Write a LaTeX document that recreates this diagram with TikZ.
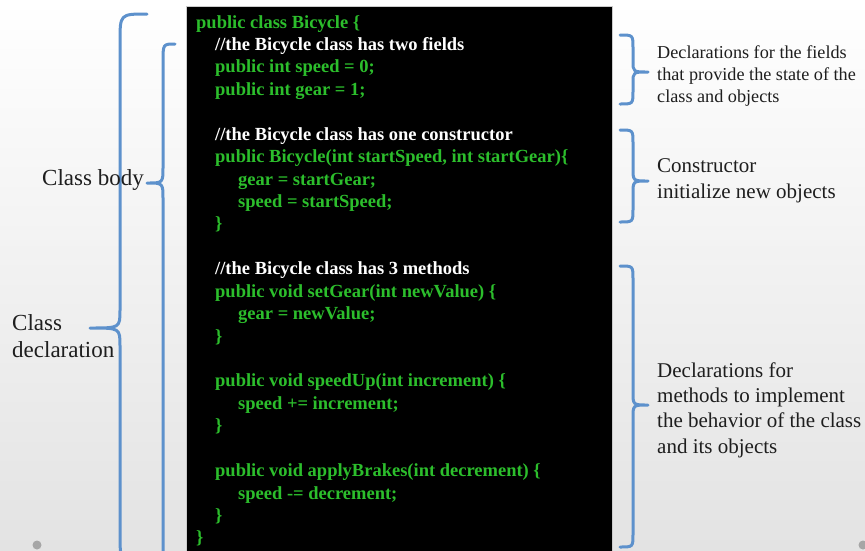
\documentclass[tikz,border=0pt]{standalone}
\usepackage{fontspec}
\setmainfont{Liberation Serif}
\definecolor{bracecol}{RGB}{93,145,204}
\definecolor{codegreen}{RGB}{44,190,44}
\definecolor{labelcol}{RGB}{30,30,30}
\begin{document}
\begin{tikzpicture}[x=1pt,y=-1pt,
        code/.style={anchor=base west, inner sep=0pt, text=codegreen, font=\bfseries\fontsize{18.5}{20}\selectfont},
        comment/.style={code, text=white},
        brace/.style={draw=bracecol, line width=3pt, line cap=round, line join=round},
        label/.style={anchor=base west, inner sep=0pt, align=left, text=labelcol, font=\fontsize{21}{25.3}\selectfont}
    ]
    \useasboundingbox (0,0) rectangle (865,550);
    \clip (0,0) rectangle (865,550);
    \shade[top color=white, bottom color=gray!22] (0,0) rectangle (865,550);
    \fill[gray!70] (37,545) circle (4.5) (863,545) circle (4.5);

    % code listing
    \draw[gray!40, fill=black] (186,6) rectangle (612,560);
    \node[code]    (l0)  at (196,28.0)  {public class Bicycle \{};
    \node[comment] (l1)  at (215,50.4)  {//the Bicycle class has two fields};
    \node[code]    (l2)  at (215,72.9)  {public int speed = 0;};
    \node[code]    (l3)  at (215,95.3)  {public int gear = 1;};
    \node[comment] (l5)  at (215,140.2) {//the Bicycle class has one constructor};
    \node[code]    (l6)  at (215,162.6) {public Bicycle(int startSpeed, int startGear)\{};
    \node[code]    (l7)  at (238,185.0) {gear = startGear;};
    \node[code]    (l8)  at (238,207.4) {speed = startSpeed;};
    \node[code]    (l9)  at (215,229.9) {\}};
    \node[comment] (l11) at (215,274.7) {//the Bicycle class has 3 methods};
    \node[code]    (l12) at (215,297.2) {public void setGear(int newValue) \{};
    \node[code]    (l13) at (238,319.6) {gear = newValue;};
    \node[code]    (l14) at (215,342.0) {\}};
    \node[code]    (l16) at (215,386.9) {public void speedUp(int increment) \{};
    \node[code]    (l17) at (238,409.3) {speed += increment;};
    \node[code]    (l18) at (215,431.7) {\}};
    \node[code]    (l20) at (215,476.6) {public void applyBrakes(int decrement) \{};
    \node[code]    (l21) at (238,499.0) {speed -= decrement;};
    \node[code]    (l22) at (215,521.5) {\}};
    \node[code]    (l23) at (196,543.9) {\}};

    % left braces
    \draw[brace] (147,14) .. controls (120,14) .. (120,42) -- (120,310)
        .. controls (120,328) .. (90,328) .. controls (120,328) .. (120,346)
        -- (120,534) .. controls (120,562) .. (147,562);
    \draw[brace] (175,44) .. controls (163,44) .. (163,62) -- (163,167)
        .. controls (163,183) .. (147,183) .. controls (163,183) .. (163,199)
        -- (163,540) .. controls (163,560) .. (175,560);
    \node[label, anchor=base east, font=\fontsize{23}{27}\selectfont] (classbody) at (144,185) {Class body};
    \node[label, font=\fontsize{23}{27}\selectfont] (classdecl) at (12,357) {Class\\declaration};

    % right braces
    \draw[brace] (620,35) .. controls (633,35) .. (633,48) -- (633,61)
        .. controls (633,72) .. (648,72) .. controls (633,72) .. (633,83)
        -- (633,91) .. controls (633,104) .. (620,104);
    \draw[brace] (620,130) .. controls (633,130) .. (633,143) -- (633,168)
        .. controls (633,181) .. (648,181) .. controls (633,181) .. (633,194)
        -- (633,209) .. controls (633,222) .. (620,222);
    \draw[brace] (620,266) .. controls (633,266) .. (633,279) -- (633,392)
        .. controls (633,405) .. (648,405) .. controls (633,405) .. (633,418)
        -- (633,534) .. controls (633,547) .. (620,547);
    \node[label, font=\fontsize{18.2}{22}\selectfont] (fieldsnote) at (657,102)
        {Declarations for the fields\\that provide the state of the\\class and objects};
    \node[label] (ctornote) at (657,198) {Constructor\\initialize new objects};
    \node[label] (methodsnote) at (657,453)
        {Declarations for\\methods to implement\\the behavior of the class\\and its objects};
\end{tikzpicture}
\end{document}
